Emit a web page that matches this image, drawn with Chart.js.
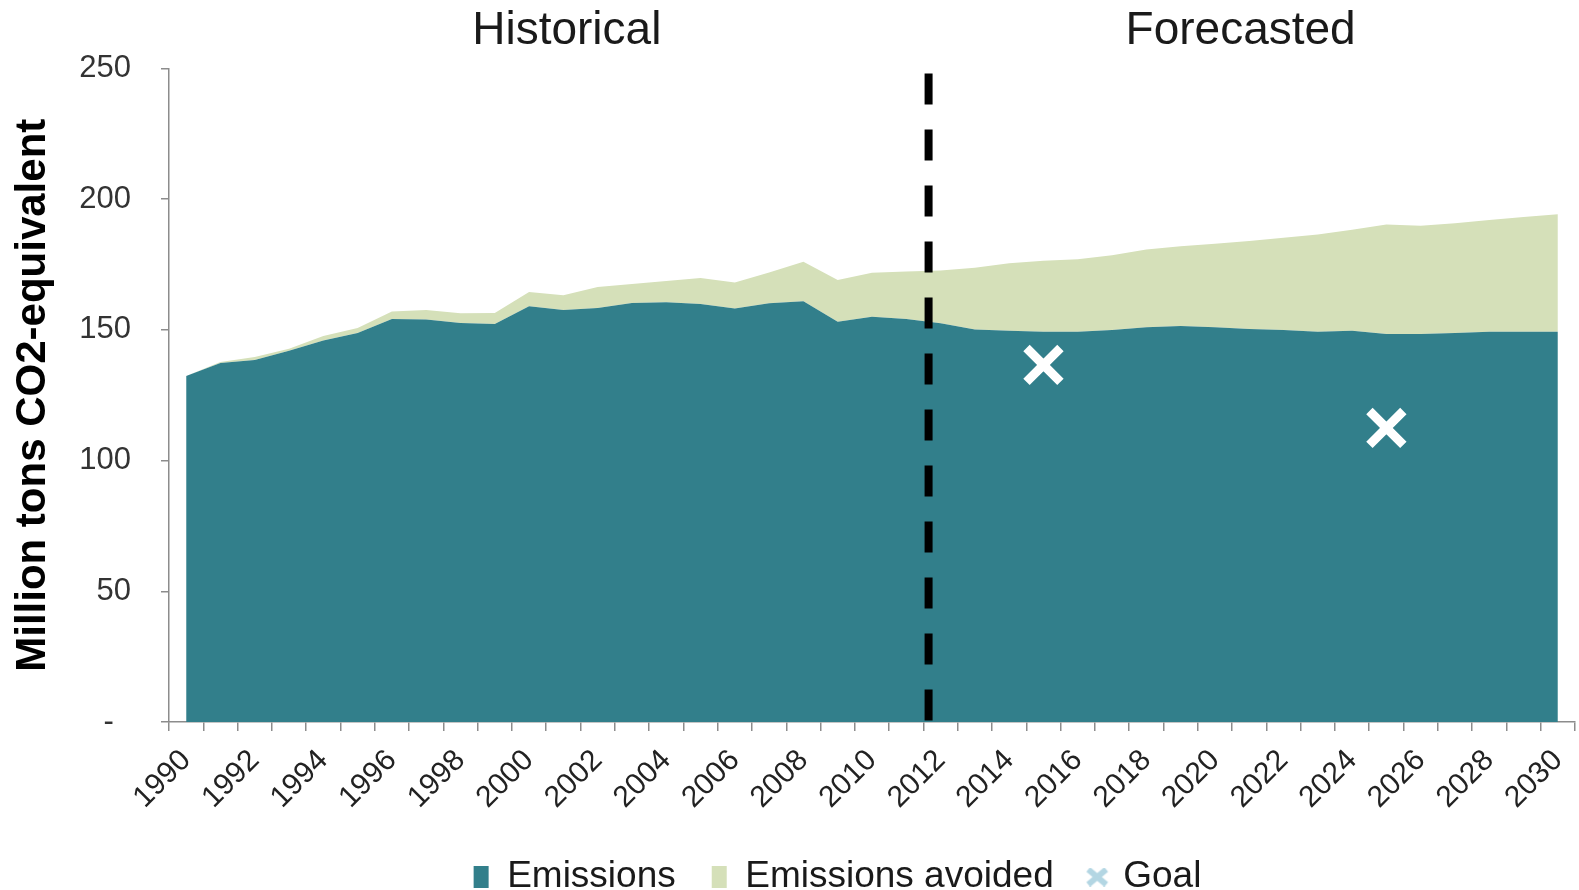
<!DOCTYPE html>
<html>
<head>
<meta charset="utf-8">
<script src="https://cdn.jsdelivr.net/npm/chart.js@4.4.1/dist/chart.umd.min.js"></script>
<style>
  html, body { margin: 0; padding: 0; background: #ffffff; overflow: hidden; }
  canvas { display: block; }
</style>
</head>
<body>
<canvas id="chart" width="1579" height="890" style="width:1579px;height:890px"></canvas>
<script>
// Years on the category axis
const years = [
  '1990','1991','1992','1993','1994','1995','1996','1997','1998','1999',
  '2000','2001','2002','2003','2004','2005','2006','2007','2008','2009',
  '2010','2011','2012','2013','2014','2015','2016','2017','2018','2019',
  '2020','2021','2022','2023','2024','2025','2026','2027','2028','2029','2030'
];

// Actual / projected emissions (million tons CO2e)
const emissions = [
  132.4, 137.3, 138.5, 142.0, 145.9, 148.8, 154.2, 154.0, 152.6, 152.3,
  159.0, 157.6, 158.4, 160.3, 160.6, 159.9, 158.2, 160.2, 161.0, 153.1,
  155.0, 154.2, 152.5, 150.2, 149.7, 149.3, 149.3, 150.0, 151.0, 151.5,
  151.0, 150.3, 150.0, 149.3, 149.7, 148.4, 148.4, 148.8, 149.3, 149.3, 149.3
];

// Emissions without the avoided share (upper edge of the "avoided" band)
const baselineTotal = [
  132.4, 137.7, 139.6, 142.8, 147.7, 150.7, 157.0, 157.6, 156.4, 156.5,
  164.5, 163.3, 166.4, 167.6, 168.7, 169.9, 168.1, 172.0, 176.1, 169.1,
  171.9, 172.3, 172.7, 173.8, 175.5, 176.5, 177.0, 178.6, 180.8, 182.0,
  183.0, 184.0, 185.3, 186.5, 188.3, 190.3, 189.8, 190.8, 192.0, 193.2, 194.2
];

// Reduction goals
const goalYears = ['2015', '2025'];
const goalValues = [136.6, 112.5];

// Y axis ticks
const yTickValues = [0, 50, 100, 150, 200, 250];

// Period headings and the year boundary between them
const periodLabels = ['Historical', 'Forecasted'];
const splitYear = '2012';

const FONT = '"Liberation Sans", Arial, Helvetica, sans-serif';
const TEAL = '#327f8b';
const SAGE = '#d5e0b9';
const GOAL_LEGEND = '#b3d6e3';
const AXIS = '#8c8c8c';

// Small light-blue cross used as the legend symbol of the goals
const goalIcon = document.createElement('canvas');
goalIcon.width = 24;
goalIcon.height = 19;
(function () {
  const g = goalIcon.getContext('2d');
  g.strokeStyle = GOAL_LEGEND;
  g.lineWidth = 6;
  g.beginPath();
  g.moveTo(3, 2); g.lineTo(21, 17);
  g.moveTo(21, 2); g.lineTo(3, 17);
  g.stroke();
})();

// Dashed divider and period headings
const periodPlugin = {
  id: 'periods',
  afterLayout(chart) {
    // nudge the legend row to the right
    chart.legend.left += 50;
    chart.legend.right += 50;
  },
  afterDatasetsDraw(chart) {
    const { ctx, chartArea, scales } = chart;
    const x = scales.x;
    const i = years.indexOf(splitYear);
    const a = x.getPixelForValue(i - 1);
    const b = x.getPixelForValue(i);
    const lx = a + 0.65 * (b - a);
    ctx.save();
    ctx.strokeStyle = '#000000';
    ctx.lineWidth = 8;
    ctx.setLineDash([31, 25]);
    ctx.beginPath();
    ctx.moveTo(lx, chartArea.top + 5);
    ctx.lineTo(lx, chartArea.bottom);
    ctx.stroke();
    ctx.restore();
  },
  afterDraw(chart) {
    const { ctx, scales } = chart;
    const x = scales.x;
    ctx.save();
    ctx.fillStyle = '#1a1a1a';
    ctx.font = '46px ' + FONT;
    ctx.textAlign = 'center';
    ctx.textBaseline = 'middle';
    ctx.fillText(periodLabels[0], x.getPixelForValue(11.1), 31);
    ctx.fillText(periodLabels[1], x.getPixelForValue(30.75), 31);
    ctx.restore();
  }
};

const legendOrder = [1, 2, 0];

const chart = new Chart(document.getElementById('chart'), {
  type: 'line',
  data: {
    labels: years,
    datasets: [
      {
        label: 'Goal',
        data: goalYears.map((y, k) => ({ x: y, y: goalValues[k] })),
        showLine: false,
        pointStyle: 'crossRot',
        pointRadius: 24,
        pointHoverRadius: 24,
        pointBorderWidth: 9,
        pointBorderColor: '#ffffff',
        pointBackgroundColor: 'rgba(0,0,0,0)',
        borderColor: '#ffffff'
      },
      {
        label: 'Emissions',
        data: emissions,
        fill: 'origin',
        backgroundColor: TEAL,
        borderColor: TEAL,
        borderWidth: 0,
        pointRadius: 0,
        tension: 0
      },
      {
        label: 'Emissions avoided',
        data: baselineTotal,
        fill: '-1',
        backgroundColor: SAGE,
        borderColor: SAGE,
        borderWidth: 0,
        pointRadius: 0,
        tension: 0
      }
    ]
  },
  options: {
    responsive: false,
    animation: false,
    layout: { autoPadding: false, padding: { top: 68.5, right: 4, bottom: -15.5, left: 0 } },
    plugins: {
      tooltip: { enabled: false },
      legend: {
        position: 'bottom',
        labels: {
          usePointStyle: true,
          pointStyleWidth: 15,
          boxHeight: 22,
          padding: 36,
          color: '#1a1a1a',
          font: { family: FONT, size: 37 },
          generateLabels(c) {
            return legendOrder.map(i => {
              const ds = c.data.datasets[i];
              if (i === 0) {
                return { text: ds.label, datasetIndex: i, pointStyle: goalIcon,
                  fillStyle: GOAL_LEGEND, strokeStyle: GOAL_LEGEND, lineWidth: 0,
                  fontColor: '#1a1a1a', hidden: false };
              }
              return { text: ds.label, datasetIndex: i, pointStyle: 'rect',
                fillStyle: ds.backgroundColor, strokeStyle: ds.backgroundColor, lineWidth: 0,
                fontColor: '#1a1a1a', hidden: false };
            });
          }
        }
      }
    },
    scales: {
      x: {
        type: 'category',
        offset: true,
        grid: { offset: true, drawOnChartArea: false, drawTicks: true, tickLength: 9, color: AXIS, lineWidth: 1.5 },
        border: { color: AXIS, width: 1.5 },
        ticks: {
          autoSkip: false,
          maxRotation: 45,
          minRotation: 45,
          padding: 12,
          color: '#222222',
          font: { family: FONT, size: 30 },
          callback(v, i) { return i % 2 === 0 ? years[i] : ''; }
        },
        afterFit(s) {
          s.height = 100.5;
          s.paddingLeft = 0;
          s.paddingRight = 0;
        }
      },
      y: {
        type: 'linear',
        min: 0,
        max: 250,
        afterBuildTicks(s) { s.ticks = yTickValues.map(v => ({ value: v })); },
        grid: { drawOnChartArea: false, drawTicks: true, tickLength: 8, color: AXIS, lineWidth: 1.5 },
        border: { color: AXIS, width: 1.5 },
        ticks: {
          padding: 30,
          color: '#333333',
          font: { family: FONT, size: 31 },
          callback(v) { return v === 0 ? '-  ' : String(v); }
        },
        title: {
          display: true,
          text: 'Million tons CO2-equivalent',
          color: '#000000',
          font: { family: FONT, size: 42, weight: 'bold' },
          padding: { top: 8, bottom: 0 }
        },
        afterFit(s) { s.width = 169; }
      }
    }
  },
  plugins: [periodPlugin]
});
</script>
</body>
</html>
